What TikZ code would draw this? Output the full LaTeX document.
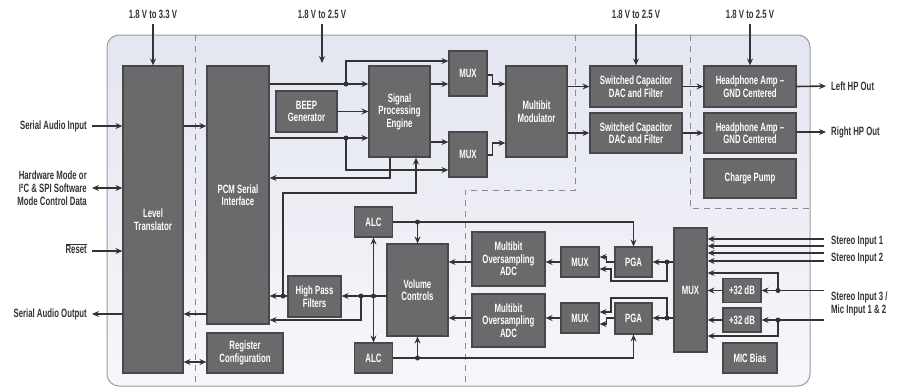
\documentclass[tikz,border=0pt]{standalone}
\usepackage{fontspec}
\setmainfont{Liberation Sans}[FakeStretch=0.65]
\usetikzlibrary{arrows.meta,positioning,calc}
\definecolor{ink}{HTML}{333333}
\definecolor{blk}{HTML}{6A6A6D}
\definecolor{blkedge}{HTML}{48484B}
\definecolor{chiptop}{HTML}{E3E5F0}
\definecolor{chipbot}{HTML}{F7F7FA}
\definecolor{chipedge}{HTML}{9C9CA8}
\definecolor{zonegray}{HTML}{8A8A90}

\begin{document}
\begin{tikzpicture}[x=1pt,y=-1pt,
  every node/.style={font=\fontsize{12}{12.5}\selectfont\bfseries},
  blkbox/.style={draw=blkedge,fill=blk,line width=1.2pt,text=white,align=center,inner sep=0pt},
  lbl/.style={text=ink,inner sep=1pt,font=\fontsize{12}{13}\selectfont\bfseries},
  arr/.style={ink,line width=1.6pt,-{Stealth[length=7pt,width=6pt,inset=2.5pt]}},
  tarr/.style={ink,line width=1.1pt,-{Stealth[length=7pt,width=6pt,inset=2.5pt]}},
  dbl/.style={ink,line width=1.6pt,{Stealth[length=7pt,width=6pt,inset=2.5pt]}-{Stealth[length=7pt,width=6pt,inset=2.5pt]}},
  tline/.style={ink,line width=1.1pt},
  dot/.style={circle,fill=ink,inner sep=0pt,minimum size=5pt},
  zone/.style={zonegray,line width=0.8pt,dash pattern=on 6pt off 5pt}]
\useasboundingbox (0,0) rectangle (903,389);
% chip outline and power domains
\draw[chipedge,line width=1pt,rounded corners=12pt,top color=chiptop,bottom color=chipbot] (107,35) rectangle (810,386);
\draw[zone] (195,35) -- (195,386);
\draw[zone] (575,35) -- (575,190) -- (465,190) -- (465,386);
\draw[zone] (690,35) -- (690,208) -- (810,208);
% blocks
\node[blkbox,minimum width=60pt,minimum height=307pt] (lt) at (153,219.5) {Level\\Translator};
\node[blkbox,minimum width=62pt,minimum height=258pt] (pcm) at (238,195) {PCM Serial\\Interface};
\node[blkbox,minimum width=76pt,minimum height=40pt] (reg) at (245,353) {Register\\Configuration};
\node[blkbox,minimum width=61pt,minimum height=41pt] (beep) at (306.5,111.5) {BEEP\\Generator};
\node[blkbox,minimum width=61pt,minimum height=91pt] (spe) at (399.5,111.5) {Signal\\Processing\\Engine};
\node[blkbox,minimum width=38pt,minimum height=45pt] (muxa) at (468,73.5) {MUX};
\node[blkbox,minimum width=38pt,minimum height=45pt] (muxb) at (468,154.5) {MUX};
\node[blkbox,minimum width=61pt,minimum height=91pt] (mod) at (536.5,111.5) {Multibit\\Modulator};
\node[blkbox,minimum width=92pt,minimum height=41pt] (daca) at (636,86.5) {Switched Capacitor\\DAC and Filter};
\node[blkbox,minimum width=92pt,minimum height=40pt] (dacb) at (636,133) {Switched Capacitor\\DAC and Filter};
\node[blkbox,minimum width=92pt,minimum height=41pt] (hpa) at (750,86.5) {Headphone Amp --\\GND Centered};
\node[blkbox,minimum width=92pt,minimum height=40pt] (hpb) at (750,133) {Headphone Amp --\\GND Centered};
\node[blkbox,minimum width=92pt,minimum height=39pt] (cp) at (750,178.5) {Charge Pump};
\node[blkbox,minimum width=38pt,minimum height=30pt] (alca) at (373.5,222) {ALC};
\node[blkbox,minimum width=38pt,minimum height=30pt] (alcb) at (373.5,358) {ALC};
\node[blkbox,minimum width=61pt,minimum height=92pt] (vc) at (417.5,290) {Volume\\Controls};
\node[blkbox,minimum width=53pt,minimum height=41pt] (hpf) at (314.5,296.5) {High Pass\\Filters};
\node[blkbox,minimum width=73pt,minimum height=54pt] (adca) at (508.5,259) {Multibit\\Oversampling\\ADC};
\node[blkbox,minimum width=73pt,minimum height=53pt] (adcb) at (508.5,320.5) {Multibit\\Oversampling\\ADC};
\node[blkbox,minimum width=38pt,minimum height=30pt] (mxa) at (580,262) {MUX};
\node[blkbox,minimum width=38pt,minimum height=30pt] (mxb) at (580,318) {MUX};
\node[blkbox,minimum width=37pt,minimum height=30pt] (pgaa) at (633.5,262) {PGA};
\node[blkbox,minimum width=37pt,minimum height=31pt] (pgab) at (633.5,318.5) {PGA};
\node[blkbox,minimum width=33pt,minimum height=124pt] (bigmux) at (690.5,290) {MUX};
\node[blkbox,minimum width=38pt,minimum height=24pt] (dba) at (742,290.5) {+32 dB};
\node[blkbox,minimum width=38pt,minimum height=24pt] (dbb) at (742,320) {+32 dB};
\node[blkbox,minimum width=54pt,minimum height=30pt] (mic) at (750,358) {MIC Bias};
% supplies
\node[lbl] (v1) at (153,14) {1.8 V to 3.3 V};
\node[lbl] (v2) at (322,14) {1.8 V to 2.5 V};
\node[lbl] (v3) at (636,14) {1.8 V to 2.5 V};
\node[lbl] (v4) at (750,14) {1.8 V to 2.5 V};
\coordinate (v2end) at (322,63);
\draw[arr,shorten <=5pt] (v1.south) -- (lt.north);
\draw[arr,shorten <=5pt] (v2.south) -- (v2end);
\draw[arr,shorten <=5pt] (v3.south) -- (daca.north);
\draw[arr,shorten <=5pt] (v4.south) -- (hpa.north);
% host side
\node[lbl,anchor=east] (sain) at (88,126) {Serial Audio Input};
\node[lbl,anchor=east,align=right] (hwm) at (88,188) {Hardware Mode or\\I²C \& SPI Software\\Mode Control Data};
\node[lbl,anchor=east] (rst) at (88,248.5) {$\overline{\mbox{Reset}}$};
\node[lbl,anchor=east] (sao) at (88,314) {Serial Audio Output};
\draw[arr,shorten <=4pt] (sain.east) -- (lt.west |- sain.east);
\draw[arr] (lt.east |- sain.east) -- (pcm.west |- sain.east);
\draw[dbl,shorten <=4pt] (hwm.east) -- (lt.west |- hwm.east);
\draw[arr,shorten <=4pt] (rst.east |- 0,251) -- (lt.west |- 0,251);
\draw[arr,shorten >=4pt] (lt.west |- sao.east) -- (sao.east);
\draw[arr] (pcm.west |- sao.east) -- (lt.east |- sao.east);
\draw[dbl] (lt.east |- 0,362) -- (reg.west |- 0,362);
% playback path
\node[dot] (d1) at (346,84) {};
\node[dot] (d2) at (346,138) {};
\draw[arr] (pcm.east |- d1) -- (spe.west |- d1);
\draw[tarr] (d1.center) |- (muxa.west |- 0,61);
\draw[arr] (beep.east) -- (spe.west |- beep.east);
\draw[arr] (pcm.east |- d2) -- (spe.west |- d2);
\draw[tarr] (d2.center) |- (muxb.west |- 0,170);
\draw[arr] (spe.east |- 0,84) -- (muxa.west |- 0,84);
\draw[arr] (spe.east |- 0,142) -- (muxb.west |- 0,142);
\draw[arr] (muxa.east |- 0,75) -- ++(5,0) |- (mod.west |- 0,84);
\draw[arr] (muxb.east |- 0,155) -- ++(5,0) |- (mod.west |- 0,143);
\draw[arr] (mod.east |- daca.west) -- (daca.west);
\draw[arr] (mod.east |- dacb.west) -- (dacb.west);
\draw[arr] (daca.east) -- (hpa.west);
\draw[arr] (dacb.east) -- (hpb.west);
\node[lbl,anchor=west] (lhp) at (830,86) {Left HP Out};
\node[lbl,anchor=west] (rhp) at (830,132) {Right HP Out};
\draw[arr,shorten >=4pt] (hpa.east) -- (lhp.west);
\draw[arr,shorten >=4pt] (hpb.east |- rhp.west) -- (rhp.west);
\draw[tarr] (spe.south -| 390,0) |- (pcm.east |- 0,178);
% record path
\node[dot] (d3) at (283,296) {};
\node[dot] (d4) at (361,296) {};
\node[dot] (d5) at (373.5,296) {};
\draw[arr] (hpf.west |- d3) -- (pcm.east |- d3);
\draw[tarr] (d3.center) -- ++(0,-103) -| (spe.south -| 416,0);
\draw[arr] (vc.west |- d4) -- (hpf.east |- d4);
\draw[tarr] (d4.center) |- (pcm.east |- 0,320);
\draw[dbl] (alca.south) -- (alcb.north);
\node[dot] (d6) at (vc.north |- alca.east) {};
\node[dot] (d7) at (vc.south |- alcb.east) {};
\draw[tarr] (alca.east) -| (pgaa.north);
\draw[tarr] (alcb.east) -| (pgab.south);
\draw[arr] (d6.center) -- (vc.north);
\draw[arr] (d7.center) -- (vc.south);
\draw[arr] (mxa.west) -- (adca.east |- mxa.west);
\draw[arr] (adca.west |- mxa.west) -- (vc.east |- mxa.west);
\draw[arr] (mxb.west) -- (adcb.east |- mxb.west);
\draw[arr] (adcb.west |- mxb.west) -- (vc.east |- mxb.west);
\node[dot] (d8) at (667,262) {};
\node[dot] (d9) at (667,318) {};
\draw[arr] (bigmux.west |- d8) -- (pgaa.east);
\draw[arr] (bigmux.west |- d9) -- (pgab.east |- d9);
\draw[tarr] (pgaa.west) -- ++(-8,0) |- (mxa.east |- 0,257);
\draw[tarr] (d8.center) |- (611,281) |- (mxa.east |- 0,269);
\draw[tarr] (pgab.west |- d9) -- ++(-8,0) |- (mxb.east |- 0,324);
\draw[tarr] (d9.center) |- (611,298) |- (mxb.east |- 0,312);
% analog inputs
\node[lbl,anchor=west] (si1) at (830,242) {Stereo Input 1};
\node[lbl,anchor=west] (si2) at (830,259) {Stereo Input 2};
\node[lbl,anchor=west,align=left] (si3) at (830,304) {Stereo Input 3 /\\Mic Input 1 \& 2};
\coordinate (r1) at (824,239);
\coordinate (r2) at (824,246);
\coordinate (r3) at (824,253);
\coordinate (r4) at (824,261);
\coordinate (r5) at (824,290.5);
\coordinate (r6) at (824,320);
\foreach \r in {r1,r2,r3,r4}
  \draw[arr] (\r) -- (bigmux.east |- \r);
\node[dot] (d10) at (778,290.5) {};
\node[dot] (d11) at (778,320) {};
\draw[arr] (r5) -- (dba.east);
\draw[arr] (r6) -- (dbb.east);
\draw[arr] (dba.west) -- (bigmux.east |- dba.west);
\draw[arr] (dbb.west) -- (bigmux.east |- dbb.west);
\draw[tarr] (d10.center) |- (bigmux.east |- 0,273);
\draw[tarr] (d11.center) |- (bigmux.east |- 0,336);
\end{tikzpicture}
\end{document}
